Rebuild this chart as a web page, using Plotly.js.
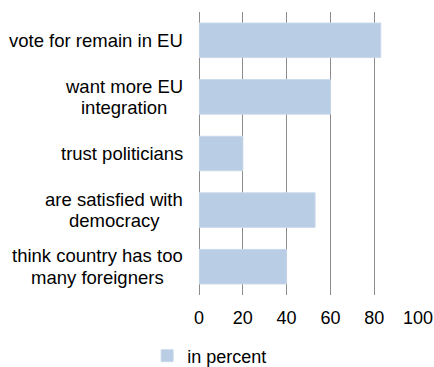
<!DOCTYPE html>
<html>
<head>
<meta charset="utf-8">
<script src="https://cdn.plot.ly/plotly-3.0.1.min.js"></script>
<style>html,body{margin:0;padding:0;background:#fff;}#chart{width:434px;height:367px;}</style>
</head>
<body>
<div id="chart"></div>
<script>
var categories = ["vote for remain in EU", "want more EU integration", "trust politicians", "are satisfied with democracy", "think country has too many foreigners"];
var categoryLabelLines = [["vote for remain in EU"], ["want more EU", "integration"], ["trust politicians"], ["are satisfied with", "democracy"], ["think country has too", "many foreigners"]];
var values = [83, 60, 20, 53, 40];
var seriesName = "in percent";
var xTicks = [0, 20, 40, 60, 80, 100];

var font = "Liberation Sans, Arial, sans-serif";
var fs = 18;
var labelSize = 18.5;
var trace = {
  type: "bar",
  orientation: "h",
  x: values,
  y: categories,
  name: seriesName,
  marker: {color: "#b9cde5", line: {color: "#c9d8ea", width: 1}},
  hoverinfo: "x+y"
};

var ctx = document.createElement("canvas").getContext("2d");
ctx.font = labelSize + "px 'Liberation Sans', Arial, sans-serif";

var annotations = [];
categories.forEach(function (c, i) {
  var lines = categoryLabelLines[i];
  var n = lines.length;
  var maxW = Math.max.apply(null, lines.map(function (l) { return ctx.measureText(l).width; }));
  lines.forEach(function (ln, j) {
    annotations.push({
      xref: "paper", yref: "y", x: 0, y: c, xanchor: "center", yanchor: "middle",
      xshift: -16 - maxW / 2, yshift: ((n - 1) / 2 - j) * 21.5,
      text: ln, showarrow: false,
      font: {family: font, size: labelSize, color: "#000"}
    });
  });
});

var layout = {
  width: 434, height: 367,
  margin: {l: 199, r: 16, t: 12, b: 72, pad: 0},
  paper_bgcolor: "#fff", plot_bgcolor: "#fff",
  font: {family: font, size: fs, color: "#000"},
  bargap: 0.39,
  showlegend: true,
  legend: {orientation: "h", xref: "container", yref: "container", x: 0.339, xanchor: "left",
           y: 0.03, yanchor: "middle",
           font: {family: font, size: fs, color: "#000"}, itemwidth: 30},
  xaxis: {
    range: [0, 100], tickvals: xTicks, ticktext: xTicks.map(String),
    showgrid: true, gridcolor: "#8c8c8c", gridwidth: 1,
    zeroline: true, zerolinecolor: "#8c8c8c", zerolinewidth: 1,
    showline: false, ticks: "", fixedrange: true, automargin: false,
    ticklabelstandoff: 10,
    tickfont: {family: font, size: fs, color: "#000"}
  },
  yaxis: {
    type: "category", categoryorder: "array", categoryarray: categories,
    range: [4.5, -0.5], showticklabels: false, showgrid: false,
    zeroline: false, showline: false, ticks: "", fixedrange: true, automargin: false
  },
  annotations: annotations
};

Plotly.newPlot("chart", [trace], layout, {displayModeBar: false, staticPlot: true});
</script>
</body>
</html>
